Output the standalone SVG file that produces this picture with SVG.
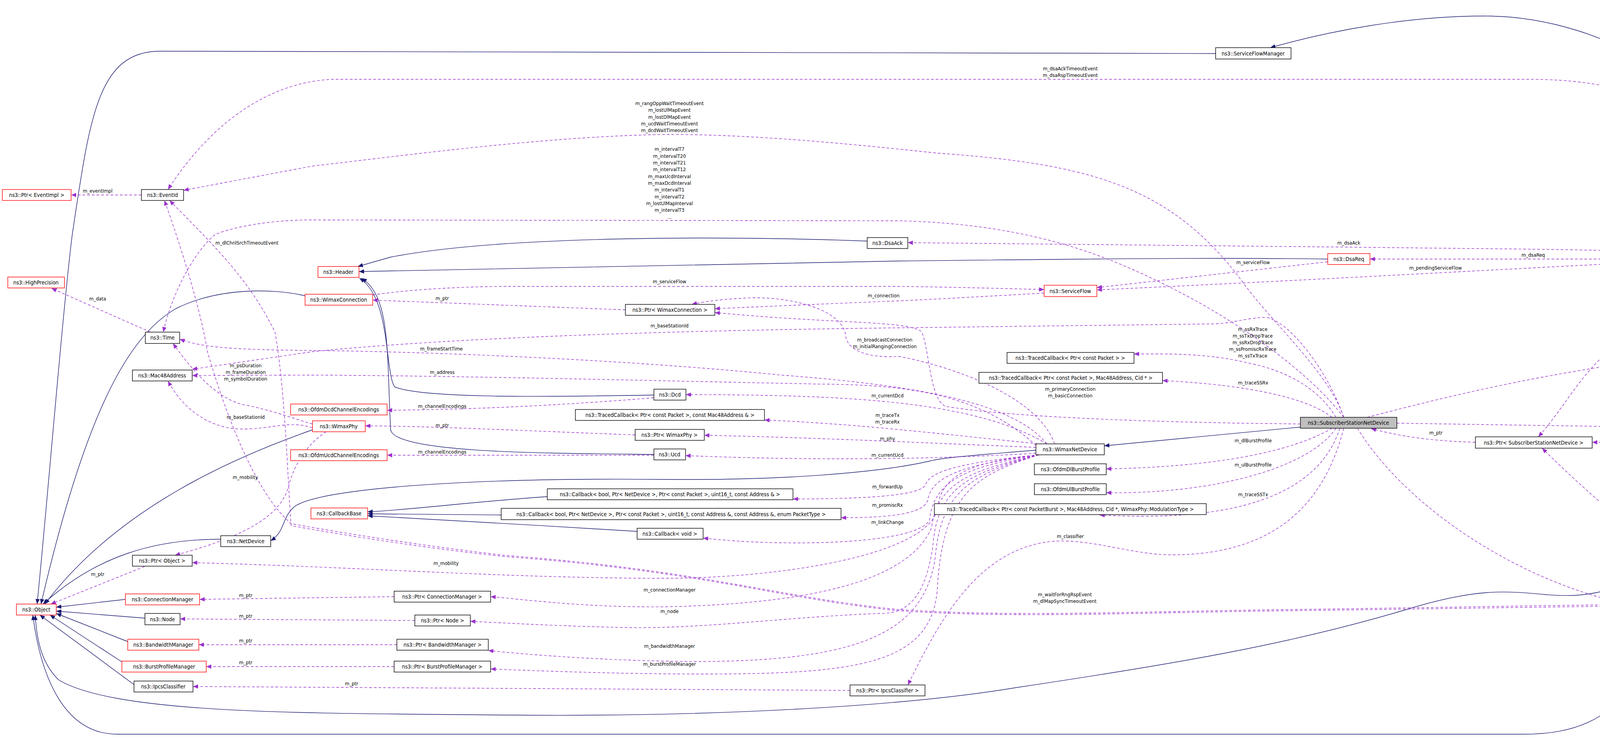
<svg xmlns="http://www.w3.org/2000/svg" width="4840" height="1899" viewBox="0 0 4840 1899">
<style>
.n rect{fill:#fff;stroke:#000;stroke-width:1.4}
.n.r rect{stroke:#ff0000}
.n.g rect{fill:#bfbfbf}
.n text{font-family:"DejaVu Sans Condensed","DejaVu Sans",sans-serif;font-size:14px;text-anchor:middle;fill:#000}
.i{fill:none;stroke:#191970;stroke-width:1.4;marker-end:url(#ai)}
.m{fill:none;stroke:#9a32cd;stroke-width:1.4;stroke-dasharray:7,5;marker-end:url(#am)}
.l{font-family:"DejaVu Sans Condensed","DejaVu Sans",sans-serif;font-size:13px;text-anchor:middle;fill:#000}
</style>
<defs>
<marker id="ai" markerUnits="userSpaceOnUse" markerWidth="14" markerHeight="11" refX="13" refY="5.5" orient="auto"><path d="M0,0 L13,5.5 L0,11 z" fill="#191970"/></marker>
<marker id="am" markerUnits="userSpaceOnUse" markerWidth="14" markerHeight="11" refX="13" refY="5.5" orient="auto"><path d="M0,0 L13,5.5 L0,11 z" fill="#9a32cd"/></marker>
</defs>
<rect width="4840" height="1899" fill="#fff"/>
<g id="edges">
<path class="i" d="M3112,137 L410,131 C250,131 230,300 185,600 C160,800 120,1300 95,1546"/>
<path class="i" d="M4382,649 C4360,450 4340,250 4260,190 C4130,90 3950,41 3800,41 C3600,41 3400,80 3252,122"/>
<path class="i" d="M2220,617 C1900,605 1300,600 1000,658 L916,682"/>
<path class="i" d="M3399,663 C3200,660 3000,660 2300,668 L919,695"/>
<path class="i" d="M1674,1011 C1400,1016 1080,1020 1010,990 C985,950 1000,760 920,712"/>
<path class="i" d="M1674,1163 C1400,1160 1010,1160 1000,1100 C990,900 1000,760 926,712"/>
<path class="i" d="M2652,1152 C2500,1165 2420,1170 2380,1180 C2250,1210 2000,1230 1700,1227 C1200,1222 800,1250 750,1300 C720,1330 730,1360 693,1384"/>
<path class="i" d="M565,1380 C400,1380 250,1420 110,1546"/>
<path class="i" d="M3329,1093 L2827,1141"/>
<path class="i" d="M781,757 C700,738 560,735 450,790 C330,860 220,1050 105,1546"/>
<path class="i" d="M800,1100 C600,1170 300,1300 115,1546"/>
<path class="i" d="M321,1534 L144,1554"/>
<path class="i" d="M371,1582 L144,1564"/>
<path class="i" d="M327,1642 L144,1570"/>
<path class="i" d="M312,1694 L128,1574"/>
<path class="i" d="M343,1752 L102,1574"/>
<path class="i" d="M4382,1146 C4360,1350 4250,1450 4150,1500 C4060,1530 4000,1525 3960,1522 C3850,1512 3780,1505 3600,1560 C3300,1650 3000,1700 2600,1760 C2300,1810 1800,1835 1300,1830 C800,1825 300,1830 150,1740 C110,1700 95,1650 90,1574"/>
<path class="i" d="M4375,1560 C4330,1620 4200,1760 4100,1830 C4030,1875 3950,1879 3900,1879 L300,1879 C150,1879 100,1700 84,1574"/>
<path class="i" d="M1401,1271 C1200,1285 1050,1305 941,1310"/>
<path class="i" d="M1283,1318 L941,1315"/>
<path class="i" d="M1631,1360 C1400,1345 1100,1330 941,1320"/>

<path class="m" d="M362,499 L182,499"/>
<path class="m" d="M4375,649 C4330,500 4250,300 4150,230 C4050,203 3950,203 3900,203 L850,203 C700,210 550,300 430,485"/>
<path class="m" d="M3440,1068 C3400,950 3250,820 3180,720 C3000,480 2800,420 2400,392 C2100,360 1900,344 1700,344 C1400,350 1100,390 800,425 L470,487"/>
<path class="m" d="M3440,1068 C3350,950 3150,800 2900,690 C2700,600 2500,570 2300,565 L830,563 C700,560 600,580 551,600 C500,640 440,750 418,850"/>
<path class="m" d="M4306,1546 C4000,1548 3700,1555 3300,1560 C2900,1565 2600,1580 2300,1560 C2000,1530 1800,1460 1300,1422 C1100,1400 850,1360 745,1340 C640,1250 560,1000 531,900 C515,800 470,650 421,513"/>
<path class="m" d="M4306,1550 C4000,1552 3700,1558 3300,1563 C2900,1568 2600,1583 2300,1563 C2000,1533 1800,1462 1300,1425 C1100,1405 850,1365 745,1345 C735,1200 730,1000 704,850 C640,720 560,640 434,513"/>
<path class="m" d="M385,850 L132,738"/>
<path class="m" d="M2680,1136 C2600,1040 2400,990 2000,960 C1600,920 1100,900 800,897 C600,895 520,890 460,868"/>
<path class="m" d="M800,1085 C760,1075 700,1050 620,1035 C560,1020 500,960 443,879"/>
<path class="m" d="M3440,1068 C3400,950 3300,820 3240,812 C3180,815 3150,829 3100,829 L2300,839 C1800,845 1200,860 800,900 L492,945"/>
<path class="m" d="M2652,1140 C2500,1000 2300,985 2100,983 C1700,975 1200,962 800,960 L492,961"/>
<path class="m" d="M800,1095 C740,1075 700,1098 620,1098 C540,1098 470,1050 430,975"/>
<path class="m" d="M1601,793 L954,768"/>
<path class="m" d="M954,755 C1050,740 1200,733 1300,733 L2300,733 C2450,735 2550,738 2673,741"/>
<path class="m" d="M3399,670 L2808,736"/>
<path class="m" d="M4279,668 C4000,680 3500,710 2808,742"/>
<path class="m" d="M4290,649 C4150,638 3900,638 3500,633 L2324,621"/>
<path class="m" d="M4279,663 L3507,663"/>
<path class="m" d="M2673,750 C2500,760 2350,768 2300,770 C2100,778 1950,785 1830,790"/>
<path class="m" d="M3329,1085 C3000,1082 2600,1070 2420,1040 C2380,1020 2380,900 2360,850 C2330,820 2150,830 1830,800"/>
<path class="m" d="M2700,1136 C2650,1000 2400,930 2300,912 C2230,917 2170,900 2165,860 C2160,800 2050,762 1930,762 C1850,765 1800,772 1771,779"/>
<path class="m" d="M1674,1018 C1400,1040 1200,1048 991,1050"/>
<path class="m" d="M1674,1165 L991,1165"/>
<path class="m" d="M1626,1113 C1400,1105 1100,1090 935,1090"/>
<path class="m" d="M2680,1136 C2500,1030 2200,1010 1756,1010"/>
<path class="m" d="M2652,1160 C2400,1175 2100,1180 1755,1166"/>
<path class="m" d="M2680,1138 C2400,1110 2200,1085 1957,1075"/>
<path class="m" d="M2652,1145 C2400,1135 2100,1120 1803,1114"/>
<path class="m" d="M2660,1164 C2500,1180 2380,1200 2370,1240 C2360,1265 2250,1277 2030,1277"/>
<path class="m" d="M2660,1164 C2500,1185 2385,1210 2375,1280 C2365,1315 2280,1325 2153,1325"/>
<path class="m" d="M2660,1164 C2500,1190 2390,1220 2380,1330 C2350,1395 2000,1400 1800,1377"/>
<path class="m" d="M2660,1164 C2500,1200 2400,1230 2385,1350 C2330,1480 2100,1545 1700,1553 C1500,1555 1350,1535 1256,1527"/>
<path class="m" d="M2660,1164 C2500,1205 2405,1240 2390,1380 C2370,1560 2300,1570 2250,1570 C2000,1580 1800,1610 1600,1606 C1450,1603 1300,1595 1204,1590"/>
<path class="m" d="M2660,1164 C2500,1210 2410,1250 2395,1420 C2370,1620 2200,1690 1800,1693 C1600,1693 1400,1680 1250,1665"/>
<path class="m" d="M2660,1164 C2500,1215 2415,1260 2400,1500 C2390,1700 2200,1725 1800,1725 C1600,1725 1400,1718 1256,1712"/>
<path class="m" d="M3440,1096 C3400,1250 3300,1420 3000,1420 C2900,1420 2800,1380 2700,1385 C2500,1400 2400,1600 2324,1753"/>
<path class="m" d="M1009,1527 L511,1534"/>
<path class="m" d="M1062,1588 L461,1584"/>
<path class="m" d="M1016,1650 L509,1650"/>
<path class="m" d="M1009,1706 L528,1706"/>
<path class="m" d="M2176,1767 L494,1757"/>
<path class="m" d="M370,1450 L130,1546"/>
<path class="m" d="M2660,1164 C2500,1180 2410,1210 2400,1300 C2380,1420 2000,1480 1700,1480 C1300,1480 900,1450 492,1440"/>
<path class="m" d="M835,1105 C780,1140 750,1200 740,1240 C720,1330 600,1380 448,1421"/>
<path class="m" d="M3420,1068 C3380,1000 3300,950 3200,930 C3100,905 3000,905 2903,906"/>
<path class="m" d="M3410,1068 C3350,1020 3200,985 2976,974"/>
<path class="m" d="M3410,1096 C3300,1160 3100,1195 2832,1200"/>
<path class="m" d="M3420,1096 C3350,1200 3100,1265 2832,1261"/>
<path class="m" d="M3430,1096 C3380,1250 3200,1340 2815,1318"/>
<path class="m" d="M3777,1132 C3650,1128 3580,1115 3510,1097"/>
<path class="m" d="M4316,1132 L4076,1132"/>
<path class="m" d="M4370,677 C4300,780 4200,860 4130,890 C4050,950 4000,1050 3938,1118"/>
<path class="m" d="M3500,1068 C3800,990 4100,920 4625,880"/>
<path class="m" d="M4682,851 L4415,677"/>
<path class="m" d="M3576,1083 C4000,1090 4400,1095 4611,1101"/>
<path class="m" d="M4611,1112 L4452,1126"/>
<path class="m" d="M4595,1562 L4461,1552"/>
<path class="m" d="M3475,1096 C3600,1300 3900,1500 4200,1553 C4400,1585 4500,1580 4602,1578"/>
<path class="m" d="M4368,1531 C4300,1450 4100,1300 3948,1147"/>
</g>
<g id="edge-labels">
<text class="l" x="250" y="493">m_eventImpl</text>
<text class="l" x="2740" y="180">m_dsaAckTimeoutEvent</text>
<text class="l" x="2740" y="197">m_dsaRspTimeoutEvent</text>
<text class="l" x="1714" y="269">m_rangOppWaitTimeoutEvent</text>
<text class="l" x="1714" y="286">m_lostUlMapEvent</text>
<text class="l" x="1714" y="304">m_lostDlMapEvent</text>
<text class="l" x="1714" y="321">m_ucdWaitTimeoutEvent</text>
<text class="l" x="1714" y="338">m_dcdWaitTimeoutEvent</text>
<text class="l" x="1714" y="386">m_intervalT7</text>
<text class="l" x="1714" y="404">m_intervalT20</text>
<text class="l" x="1714" y="421">m_intervalT21</text>
<text class="l" x="1714" y="438">m_intervalT12</text>
<text class="l" x="1714" y="456">m_maxUcdInterval</text>
<text class="l" x="1714" y="473">m_maxDcdInterval</text>
<text class="l" x="1714" y="490">m_intervalT1</text>
<text class="l" x="1714" y="508">m_intervalT2</text>
<text class="l" x="1714" y="525">m_lostUlMapInterval</text>
<text class="l" x="1714" y="542">m_intervalT3</text>
<text class="l" x="1714" y="560">...</text>
<text class="l" x="632" y="626">m_dlChnlSrchTimeoutEvent</text>
<text class="l" x="250" y="769">m_data</text>
<text class="l" x="1130" y="897">m_frameStartTime</text>
<text class="l" x="629" y="940">m_psDuration</text>
<text class="l" x="629" y="957">m_frameDuration</text>
<text class="l" x="629" y="974">m_symbolDuration</text>
<text class="l" x="1714" y="838">m_baseStationId</text>
<text class="l" x="1132" y="957">m_address</text>
<text class="l" x="629" y="1072">m_baseStationId</text>
<text class="l" x="1132" y="768">m_ptr</text>
<text class="l" x="1714" y="725">m_serviceFlow</text>
<text class="l" x="3208" y="676">m_serviceFlow</text>
<text class="l" x="3675" y="690">m_pendingServiceFlow</text>
<text class="l" x="3453" y="626">m_dsaAck</text>
<text class="l" x="3925" y="657">m_dsaReq</text>
<text class="l" x="2262" y="761">m_connection</text>
<text class="l" x="2740" y="1000">m_primaryConnection</text>
<text class="l" x="2740" y="1017">m_basicConnection</text>
<text class="l" x="2265" y="874">m_broadcastConnection</text>
<text class="l" x="2265" y="891">m_initialRangingConnection</text>
<text class="l" x="1132" y="1044">m_channelEncodings</text>
<text class="l" x="1132" y="1161">m_channelEncodings</text>
<text class="l" x="1132" y="1093">m_ptr</text>
<text class="l" x="2272" y="1017">m_currentDcd</text>
<text class="l" x="2272" y="1169">m_currentUcd</text>
<text class="l" x="2272" y="1067">m_traceTx</text>
<text class="l" x="2272" y="1084">m_traceRx</text>
<text class="l" x="2272" y="1127">m_phy</text>
<text class="l" x="2272" y="1250">m_forwardUp</text>
<text class="l" x="2272" y="1297">m_promiscRx</text>
<text class="l" x="2272" y="1341">m_linkChange</text>
<text class="l" x="1714" y="1514">m_connectionManager</text>
<text class="l" x="1714" y="1569">m_node</text>
<text class="l" x="1714" y="1658">m_bandwidthManager</text>
<text class="l" x="1714" y="1704">m_burstProfileManager</text>
<text class="l" x="2740" y="1377">m_classifier</text>
<text class="l" x="629" y="1528">m_ptr</text>
<text class="l" x="629" y="1581">m_ptr</text>
<text class="l" x="629" y="1644">m_ptr</text>
<text class="l" x="629" y="1700">m_ptr</text>
<text class="l" x="900" y="1754">m_ptr</text>
<text class="l" x="250" y="1474">m_ptr</text>
<text class="l" x="1142" y="1446">m_mobility</text>
<text class="l" x="628" y="1226">m_mobility</text>
<text class="l" x="3207" y="847">m_ssRxTrace</text>
<text class="l" x="3207" y="864">m_ssTxDropTrace</text>
<text class="l" x="3207" y="881">m_ssRxDropTrace</text>
<text class="l" x="3207" y="898">m_ssPromiscRxTrace</text>
<text class="l" x="3207" y="915">m_ssTxTrace</text>
<text class="l" x="3208" y="984">m_traceSSRx</text>
<text class="l" x="3208" y="1132">m_dlBurstProfile</text>
<text class="l" x="3208" y="1194">m_ulBurstProfile</text>
<text class="l" x="3208" y="1270">m_traceSSTx</text>
<text class="l" x="3676" y="1112">m_ptr</text>
<text class="l" x="4177" y="1126">m_ss</text>
<text class="l" x="4177" y="808">m_device</text>
<text class="l" x="4178" y="941">m_serviceFlowManager</text>
<text class="l" x="4532" y="741">m_ptr</text>
<text class="l" x="4177" y="1088">m_scheduler</text>
<text class="l" x="4532" y="1114">m_ptr</text>
<text class="l" x="4532" y="1547">m_ptr</text>
<text class="l" x="4178" y="1514">m_linkManager</text>
<text class="l" x="4177" y="1286">m_ss</text>
<text class="l" x="2726" y="1526">m_waitForRngRspEvent</text>
<text class="l" x="2726" y="1543">m_dlMapSyncTimeoutEvent</text>
</g>
<g id="n1" class="n r"><rect x="6" y="485" width="176" height="28"/><text x="94" y="504">ns3::Ptr&lt; EventImpl &gt;</text></g>
<g id="n2" class="n"><rect x="362" y="485" width="108" height="28"/><text x="416" y="504">ns3::EventId</text></g>
<g id="n3" class="n r"><rect x="20" y="709" width="145" height="28"/><text x="92" y="728">ns3::HighPrecision</text></g>
<g id="n4" class="n"><rect x="372" y="850" width="88" height="29"/><text x="416" y="869">ns3::Time</text></g>
<g id="n5" class="n"><rect x="339" y="947" width="153" height="28"/><text x="415" y="966">ns3::Mac48Address</text></g>
<g id="n6" class="n"><rect x="565" y="1371" width="128" height="28"/><text x="629" y="1390">ns3::NetDevice</text></g>
<g id="n7" class="n"><rect x="339" y="1421" width="153" height="28"/><text x="415" y="1440">ns3::Ptr&lt; Object &gt;</text></g>
<g id="n8" class="n r"><rect x="321" y="1520" width="190" height="28"/><text x="416" y="1539">ns3::ConnectionManager</text></g>
<g id="n9" class="n r"><rect x="42" y="1546" width="102" height="28"/><text x="93" y="1565">ns3::Object</text></g>
<g id="n10" class="n"><rect x="371" y="1570" width="90" height="29"/><text x="416" y="1590">ns3::Node</text></g>
<g id="n11" class="n r"><rect x="327" y="1636" width="182" height="28"/><text x="418" y="1655">ns3::BandwidthManager</text></g>
<g id="n12" class="n r"><rect x="312" y="1692" width="216" height="28"/><text x="420" y="1711">ns3::BurstProfileManager</text></g>
<g id="n13" class="n"><rect x="343" y="1743" width="151" height="28"/><text x="418" y="1762">ns3::IpcsClassifier</text></g>
<g id="n14" class="n r"><rect x="814" y="682" width="105" height="28"/><text x="866" y="701">ns3::Header</text></g>
<g id="n15" class="n r"><rect x="781" y="753" width="173" height="28"/><text x="867" y="772">ns3::WimaxConnection</text></g>
<g id="n16" class="n"><rect x="1601" y="779" width="229" height="28"/><text x="1715" y="798">ns3::Ptr&lt; WimaxConnection &gt;</text></g>
<g id="n17" class="n"><rect x="2220" y="608" width="104" height="28"/><text x="2272" y="627">ns3::DsaAck</text></g>
<g id="n18" class="n"><rect x="3112" y="122" width="193" height="29"/><text x="3208" y="142">ns3::ServiceFlowManager</text></g>
<g id="n19" class="n r"><rect x="3399" y="649" width="108" height="28"/><text x="3453" y="668">ns3::DsaReq</text></g>
<g id="n20" class="n r"><rect x="2673" y="730" width="135" height="29"/><text x="2740" y="750">ns3::ServiceFlow</text></g>
<g id="n21" class="n"><rect x="2578" y="902" width="325" height="28"/><text x="2740" y="921">ns3::TracedCallback&lt; Ptr&lt; const Packet &gt; &gt;</text></g>
<g id="n22" class="n"><rect x="2506" y="953" width="470" height="28"/><text x="2741" y="972">ns3::TracedCallback&lt; Ptr&lt; const Packet &gt;, Mac48Address, Cid * &gt;</text></g>
<g id="n23" class="n"><rect x="4279" y="649" width="209" height="28"/><text x="4383" y="668">ns3::SsServiceFlowManager</text></g>
<g id="n24" class="n"><rect x="4575" y="851" width="259" height="29"/><text x="4704" y="871">ns3::Ptr&lt; SsServiceFlowManager &gt;</text></g>
<g id="n25" class="n g"><rect x="3329" y="1068" width="247" height="28"/><text x="3452" y="1087">ns3::SubscriberStationNetDevice</text></g>
<g id="n26" class="n"><rect x="3777" y="1118" width="299" height="29"/><text x="3926" y="1138">ns3::Ptr&lt; SubscriberStationNetDevice &gt;</text></g>
<g id="n27" class="n"><rect x="2652" y="1136" width="175" height="28"/><text x="2739" y="1155">ns3::WimaxNetDevice</text></g>
<g id="n28" class="n"><rect x="2648" y="1187" width="184" height="28"/><text x="2740" y="1206">ns3::OfdmDlBurstProfile</text></g>
<g id="n29" class="n"><rect x="2648" y="1238" width="184" height="28"/><text x="2740" y="1257">ns3::OfdmUlBurstProfile</text></g>
<g id="n30" class="n"><rect x="2392" y="1289" width="696" height="28"/><text x="2740" y="1308">ns3::TracedCallback&lt; Ptr&lt; const PacketBurst &gt;, Mac48Address, Cid *, WimaxPhy::ModulationType &gt;</text></g>
<g id="n31" class="n"><rect x="1674" y="996" width="82" height="28"/><text x="1715" y="1015">ns3::Dcd</text></g>
<g id="n32" class="n"><rect x="1473" y="1048" width="484" height="28"/><text x="1715" y="1067">ns3::TracedCallback&lt; Ptr&lt; const Packet &gt;, const Mac48Address &amp; &gt;</text></g>
<g id="n33" class="n"><rect x="1626" y="1099" width="177" height="28"/><text x="1714" y="1118">ns3::Ptr&lt; WimaxPhy &gt;</text></g>
<g id="n34" class="n"><rect x="1674" y="1149" width="81" height="28"/><text x="1714" y="1168">ns3::Ucd</text></g>
<g id="n35" class="n"><rect x="1401" y="1251" width="629" height="28"/><text x="1715" y="1270">ns3::Callback&lt; bool, Ptr&lt; NetDevice &gt;, Ptr&lt; const Packet &gt;, uint16_t, const Address &amp; &gt;</text></g>
<g id="n36" class="n"><rect x="1283" y="1301" width="870" height="29"/><text x="1718" y="1321">ns3::Callback&lt; bool, Ptr&lt; NetDevice &gt;, Ptr&lt; const Packet &gt;, uint16_t, const Address &amp;, const Address &amp;, enum PacketType &gt;</text></g>
<g id="n37" class="n"><rect x="1631" y="1352" width="169" height="28"/><text x="1715" y="1371">ns3::Callback&lt; void &gt;</text></g>
<g id="n38" class="n"><rect x="2176" y="1753" width="192" height="28"/><text x="2272" y="1772">ns3::Ptr&lt; IpcsClassifier &gt;</text></g>
<g id="n39" class="n"><rect x="1009" y="1513" width="247" height="28"/><text x="1132" y="1532">ns3::Ptr&lt; ConnectionManager &gt;</text></g>
<g id="n40" class="n"><rect x="1062" y="1574" width="142" height="28"/><text x="1133" y="1593">ns3::Ptr&lt; Node &gt;</text></g>
<g id="n41" class="n"><rect x="1016" y="1636" width="234" height="28"/><text x="1133" y="1655">ns3::Ptr&lt; BandwidthManager &gt;</text></g>
<g id="n42" class="n"><rect x="1009" y="1692" width="247" height="28"/><text x="1132" y="1711">ns3::Ptr&lt; BurstProfileManager &gt;</text></g>
<g id="n43" class="n r"><rect x="800" y="1077" width="135" height="28"/><text x="867" y="1096">ns3::WimaxPhy</text></g>
<g id="n44" class="n r"><rect x="744" y="1034" width="247" height="28"/><text x="867" y="1053">ns3::OfdmDcdChannelEncodings</text></g>
<g id="n45" class="n r"><rect x="744" y="1151" width="247" height="28"/><text x="867" y="1170">ns3::OfdmUcdChannelEncodings</text></g>
<g id="n46" class="n r"><rect x="796" y="1300" width="145" height="28"/><text x="868" y="1319">ns3::CallbackBase</text></g>
<g id="n47" class="n"><rect x="4316" y="1118" width="136" height="28"/><text x="4384" y="1137">ns3::SSScheduler</text></g>
<g id="n48" class="n"><rect x="4611" y="1091" width="189" height="28"/><text x="4705" y="1110">ns3::Ptr&lt; SSScheduler &gt;</text></g>
<g id="n49" class="n r"><rect x="4306" y="1531" width="155" height="29"/><text x="4383" y="1551">ns3::SSLinkManager</text></g>
<g id="n50" class="n"><rect x="4602" y="1557" width="206" height="28"/><text x="4705" y="1576">ns3::Ptr&lt; SSLinkManager &gt;</text></g>
</svg>
